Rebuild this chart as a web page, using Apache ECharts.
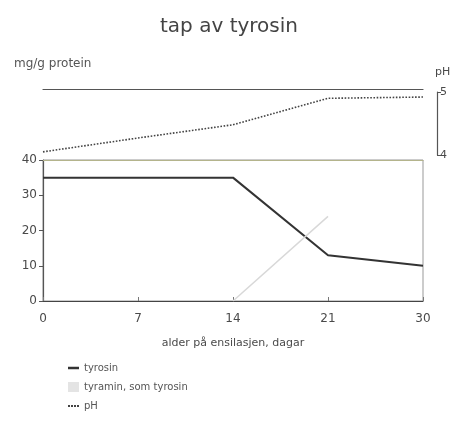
<!DOCTYPE html>
<html><head><meta charset="utf-8">
<script src="https://cdn.jsdelivr.net/npm/echarts@6/dist/echarts.min.js"></script>
<style>html,body{margin:0;padding:0;background:#fff}#c{width:455px;height:428px}</style>
</head><body><div id="c"></div>
<script>
var days = ['0', '7', '14', '21', '30'];
var tyrosin = [35, 35, 35, 13, 10];
var tyramin = [null, null, 0, 24, null];
var ph = [4.05, 4.27, 4.48, 4.9, 4.92];
var yTicksLeft = [0, 10, 20, 30, 40];
var yTicksPh = [4, 5];

var FONT = 'DejaVu Sans';
var TXT = '#4a4a4a';
var chart = echarts.init(document.getElementById('c'), null, {renderer: 'canvas'});
chart.setOption({
  animation: false,
  backgroundColor: '#fff',
  textStyle: {fontFamily: FONT, color: TXT},
  title: {
    text: 'tap av tyrosin', left: 224, top: 12, textAlign: 'center',
    textStyle: {fontFamily: FONT, fontSize: 20, fontWeight: 'normal', color: '#444'}
  },
  graphic: [{
    type: 'text', left: 14, top: 58,
    style: {text: 'mg/g protein', fontFamily: FONT, fontSize: 12, fill: '#555'}
  }],
  legend: {
    orient: 'vertical', left: 63, top: 358, itemGap: 9,
    itemWidth: 11, itemHeight: 10,
    textStyle: {fontFamily: FONT, fontSize: 10, color: '#555'},
    data: [
      {name: 'tyrosin', icon: 'path://M0,4h11v2.5h-11z'},
      {name: 'tyramin, som tyrosin', icon: 'rect'},
      {name: 'pH', icon: 'path://M0,4h2v2h-2zM3,4h2v2h-2zM6,4h2v2h-2zM9,4h2v2h-2z'}
    ]
  },
  grid: [
    {left: 43, right: 32, top: 92, height: 63, show: false},
    {left: 43, right: 32, top: 160, height: 141, show: true, borderColor: '#999', borderWidth: 1}
  ],
  xAxis: [
    {gridIndex: 0, type: 'category', data: days, boundaryGap: false, position: 'top', offset: 3,
     axisLine: {show: true, lineStyle: {color: '#555', width: 1.2}}, axisTick: {show: false}, axisLabel: {show: false}},
    {gridIndex: 1, type: 'category', data: days, boundaryGap: false,
     axisLine: {lineStyle: {color: '#444', width: 1.2}},
     axisTick: {show: true, inside: true, length: 4, lineStyle: {color: '#777'}},
     axisLabel: {fontFamily: FONT, fontSize: 12, color: TXT, margin: 12},
     name: 'alder på ensilasjen, dagar', nameLocation: 'middle', nameGap: 37,
     nameTextStyle: {fontFamily: FONT, fontSize: 11, color: TXT}},
    {gridIndex: 1, type: 'category', data: days, boundaryGap: false, position: 'top',
     axisLine: {show: true, lineStyle: {color: '#b4b48c', width: 1.2}}, axisTick: {show: false}, axisLabel: {show: false}}
  ],
  yAxis: [
    {gridIndex: 0, type: 'value', min: yTicksPh[0], max: yTicksPh[1], interval: 1, position: 'right', offset: 14,
     axisLine: {show: true, lineStyle: {color: '#555', width: 1.2}},
     axisTick: {show: true, length: 4, lineStyle: {color: '#555'}},
     axisLabel: {fontFamily: FONT, fontSize: 11, color: TXT, margin: 3},
     splitLine: {show: false},
     name: 'pH', nameLocation: 'end', nameGap: 14,
     nameTextStyle: {fontFamily: FONT, fontSize: 11, color: TXT, align: 'left', padding: [0, 0, 0, -2]}},
    {gridIndex: 1, type: 'value', min: yTicksLeft[0], max: yTicksLeft[yTicksLeft.length - 1], interval: 10,
     axisLine: {show: true, lineStyle: {color: '#555', width: 1.2}},
     axisTick: {show: true, length: 4, lineStyle: {color: '#555'}},
     axisLabel: {fontFamily: FONT, fontSize: 12, color: TXT, margin: 6},
     splitLine: {show: false}}
  ],
  series: [
    {name: 'tyrosin', type: 'line', xAxisIndex: 1, yAxisIndex: 1, data: tyrosin,
     symbol: 'none', lineStyle: {color: '#333', width: 2}, itemStyle: {color: '#333'}},
    {name: 'tyramin, som tyrosin', type: 'line', xAxisIndex: 1, yAxisIndex: 1, data: tyramin,
     symbol: 'none', connectNulls: false, lineStyle: {color: '#d8d8d8', width: 1.5}, itemStyle: {color: '#e4e4e4'}},
    {name: 'pH', type: 'line', xAxisIndex: 0, yAxisIndex: 0, data: ph,
     symbol: 'none', lineStyle: {color: '#444', width: 1.6, type: 'dotted'}, itemStyle: {color: '#444'}}
  ]
});
</script></body></html>
